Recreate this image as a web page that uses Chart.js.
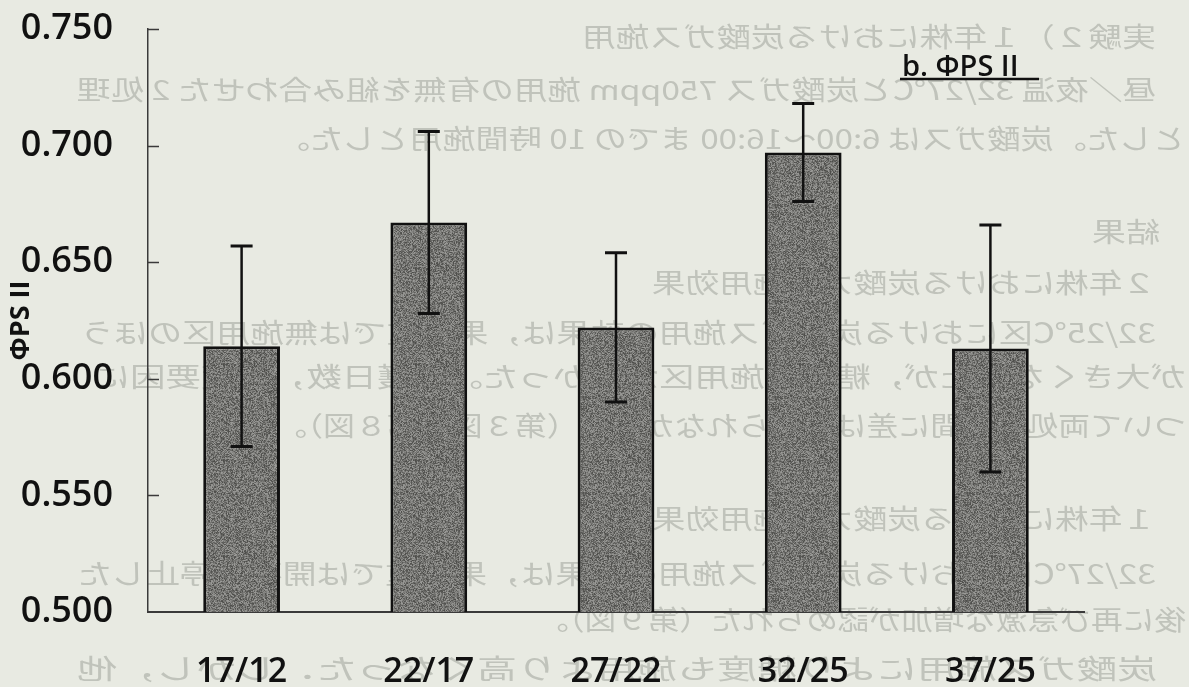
<!DOCTYPE html>
<html>
<head>
<meta charset="utf-8">
<script src="https://cdn.jsdelivr.net/npm/chart.js@4.4.1/dist/chart.umd.min.js"></script>
<style>
  html, body { margin: 0; padding: 0; background: #e8eae2; }
  #wrap { width: 1189px; height: 687px; position: relative; }
</style>
</head>
<body>
<div id="wrap"><canvas id="c" width="1189" height="687"></canvas></div>
<script>
// Treatments (day/night temperature, °C)
const categories = ['17/12', '22/17', '27/22', '32/25', '37/25'];
// Mean ΦPSII per treatment
const phiPSII = [0.614, 0.667, 0.622, 0.697, 0.613];
// Error bar half-length per treatment
const phiPSIIError = [0.043, 0.039, 0.032, 0.021, 0.053];
// Y-axis ticks
const yTicks = [0.500, 0.550, 0.600, 0.650, 0.700, 0.750];

// Faint mirrored print from the reverse side of the page sheet
const reverseSideLines = [
  { text: '実験２）１年株における炭酸ガス施用', left: 582, right: 1156, y: 37 },
  { text: '昼／夜温 32/27℃と炭酸ガス 750ppm 施用の有無を組み合わせた 2 処理', left: 77, right: 1156, y: 90 },
  { text: 'とした。炭酸ガスは 6:00～16:00 までの 10 時間施用とした。', left: 277, right: 1186, y: 139 },
  { text: '結果', left: 1092, right: 1160, y: 232 },
  { text: '２年株における炭酸ガス施用効果', left: 652, right: 1156, y: 283 },
  { text: '32/25℃区における炭酸ガス施用の効果は，果実重では無施用区のほう', left: 80, right: 1156, y: 333 },
  { text: 'が大きくなったが，糖度は施用区が高かった。収穫日数，糖度要因に', left: 95, right: 1186, y: 377 },
  { text: 'ついて両処理区間に差は認められなかった（第３図，第８図）。', left: 275, right: 1186, y: 426 },
  { text: '１年株における炭酸ガス施用効果', left: 652, right: 1156, y: 519 },
  { text: '32/27℃区における炭酸ガス施用の効果は，果実重では開花を停止した', left: 78, right: 1156, y: 574 },
  { text: '後に再び急激な増加が認められた（第９図）。', left: 537, right: 1186, y: 620 },
  { text: '炭酸ガス施用により糖度も施用より高くなった．しかし，他', left: 77, right: 1157, y: 669 }
];

// Grainy gray fill for the bars (deterministic hash texture)
function makeGrain() {
  const n = 96;
  const c = document.createElement('canvas');
  c.width = n; c.height = n;
  const g = c.getContext('2d');
  const img = g.createImageData(n, n);
  for (let j = 0; j < n; j++) {
    for (let i = 0; i < n; i++) {
      const h = Math.sin(i * 12.9898 + j * 78.233) * 43758.5453;
      const f = h - Math.floor(h);
      const v = Math.round(76 + f * 80);
      const k = (j * n + i) * 4;
      img.data[k] = v; img.data[k + 1] = v; img.data[k + 2] = v - 3; img.data[k + 3] = 255;
    }
  }
  g.putImageData(img, 0, 0);
  return g.createPattern(c, 'repeat');
}

const pagePlugin = {
  id: 'page',
  beforeDraw(chart) {
    const ctx = chart.ctx;
    ctx.save();
    ctx.fillStyle = '#e8eae2';
    ctx.fillRect(0, 0, chart.width, chart.height);
    ctx.font = '400 27px "Noto Sans CJK JP"';
    ctx.fillStyle = '#c0c3bb';
    ctx.textBaseline = 'middle';
    ctx.textAlign = 'left';
    reverseSideLines.forEach(l => {
      const w = ctx.measureText(l.text).width;
      const s = (l.right - l.left) / w;
      ctx.save();
      ctx.translate(l.right, l.y);
      ctx.scale(-s, 1);
      ctx.fillText(l.text, 0, 0);
      ctx.restore();
    });
    ctx.restore();
  }
};

const errorBarPlugin = {
  id: 'errorBars',
  afterDatasetsDraw(chart) {
    const ctx = chart.ctx;
    const ys = chart.scales.y;
    const meta = chart.getDatasetMeta(0);
    ctx.save();
    ctx.strokeStyle = '#111';
    meta.data.forEach((bar, i) => {
      const x = bar.x;
      const yHi = ys.getPixelForValue(phiPSII[i] + phiPSIIError[i]);
      const yLo = ys.getPixelForValue(phiPSII[i] - phiPSIIError[i]);
      ctx.lineWidth = 2.5;
      ctx.beginPath();
      ctx.moveTo(x, yHi); ctx.lineTo(x, yLo);
      ctx.stroke();
      ctx.lineWidth = 3;
      ctx.beginPath();
      ctx.moveTo(x - 11, yHi); ctx.lineTo(x + 11, yHi);
      ctx.moveTo(x - 11, yLo); ctx.lineTo(x + 11, yLo);
      ctx.stroke();
    });
    ctx.restore();
  },
  afterDraw(chart) {
    const ctx = chart.ctx;
    const ys = chart.scales.y;
    const x0 = chart.chartArea.left;
    ctx.save();
    // inward tick marks on the value axis
    ctx.strokeStyle = '#3a3a3a';
    ctx.lineWidth = 1.5;
    ctx.beginPath();
    yTicks.forEach(v => {
      if (v === ys.min) return;
      const py = Math.round(ys.getPixelForValue(v)) + 0.5;
      ctx.moveTo(x0, py); ctx.lineTo(x0 + 11, py);
    });
    ctx.stroke();
    // panel heading
    ctx.fillStyle = '#111';
    ctx.font = '600 29px "Open Sans"';
    ctx.textBaseline = 'alphabetic';
    ctx.textAlign = 'left';
    ctx.fillText('b. ΦPS II', 902, 76);
    ctx.strokeStyle = '#111';
    ctx.lineWidth = 2.5;
    ctx.beginPath();
    ctx.moveTo(900, 79); ctx.lineTo(1039, 79);
    ctx.stroke();
    ctx.restore();
  }
};

new Chart(document.getElementById('c'), {
  type: 'bar',
  data: {
    labels: categories,
    datasets: [{
      data: phiPSII,
      backgroundColor: makeGrain(),
      borderColor: '#111',
      borderWidth: 3,
      borderSkipped: 'start',
      barPercentage: 0.41,
      categoryPercentage: 1
    }]
  },
  options: {
    responsive: false,
    animation: false,
    devicePixelRatio: 1,
    layout: { padding: { top: 29, right: 105, bottom: 0, left: 0 } },
    plugins: { legend: { display: false }, tooltip: { enabled: false } },
    scales: {
      x: {
        grid: { display: true, drawOnChartArea: false, drawTicks: true, tickLength: 40, tickColor: 'rgba(0,0,0,0)' },
        border: { display: true, color: '#3a3a3a', width: 2 },
        ticks: {
          color: '#111',
          font: { family: 'Open Sans', size: 34, weight: '600' },
          padding: 0,
          maxRotation: 0,
          autoSkip: false
        },
        afterFit(s) { s.height = 75; }
      },
      y: {
        min: 0.5,
        max: 0.75,
        afterBuildTicks(s) { s.ticks = yTicks.map(v => ({ value: v })); },
        grid: { display: true, drawOnChartArea: false, drawTicks: true, tickLength: 35, tickColor: 'rgba(0,0,0,0)' },
        border: { display: true, color: '#3a3a3a', width: 1.5 },
        ticks: {
          color: '#111',
          font: { family: 'Open Sans', size: 36, weight: '600' },
          padding: 0,
          callback: v => Number(v).toFixed(3)
        },
        title: {
          display: true,
          text: 'ΦPS II',
          color: '#111',
          font: { family: 'Open Sans', size: 27, weight: '700' },
          padding: { top: 5, bottom: 0 }
        },
        afterFit(s) { s.width = 148; }
      }
    }
  },
  plugins: [pagePlugin, errorBarPlugin]
});
</script>
</body>
</html>
